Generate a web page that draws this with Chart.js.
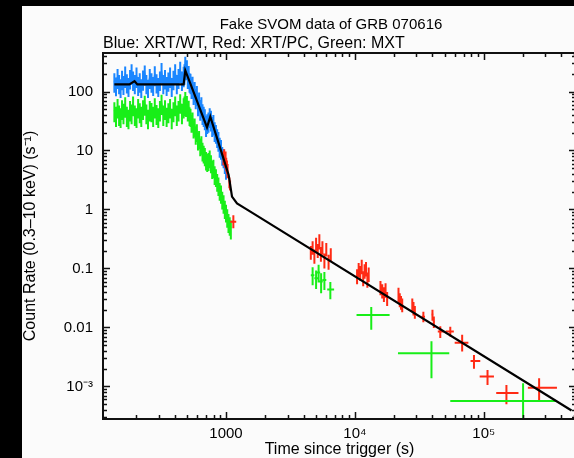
<!DOCTYPE html>
<html>
<head>
<meta charset="utf-8">
<title>GRB 070616 light curve</title>
<script src="https://cdn.jsdelivr.net/npm/chart.js@4.4.1/dist/chart.umd.min.js"></script>
<style>
  html, body { margin: 0; padding: 0; background: #000; overflow: hidden; }
  #panel { position: absolute; left: 22px; top: 6px; width: 560px; height: 452px; background: #fbfbfb; }
  #lc { display: block; }
</style>
</head>
<body>
<div id="panel"><canvas id="lc" width="560" height="452"></canvas></div>
<script>
// Axis ranges and labelled ticks
const xRange = [111, 520000];
const yRange = [2.8e-4, 450];
const xTickValues = [1000, 1e4, 1e5];
const xTickLabels = ['1000', '10\u2074', '10\u2075'];
const yTickValues = [1e-3, 0.01, 0.1, 1, 10, 100];
const yTickLabels = ['10\u207B\u00B3', '0.01', '0.1', '1', '10', '100'];

// XRT windowed timing mode (blue)
const wtTime = [136, 140, 144, 148, 152, 156, 160, 165, 170, 175, 180, 185, 190, 196, 202, 208, 214, 220, 227, 234,
  241, 248, 256, 264, 272, 280, 289, 298, 307, 316, 326, 336, 346, 357, 368, 379, 391, 403, 415, 428, 441, 455, 469,
  476, 483, 490, 497, 505, 513, 521, 530, 540, 550, 560, 571, 582, 594, 606, 618, 631, 644, 657, 671, 685, 700, 715,
  731, 747, 764, 781, 798, 816, 835, 854, 873, 893, 914, 935, 957, 979, 1000];
const wtRate = [150, 128, 175, 140, 120, 165, 135, 190, 145, 125, 170, 210, 160, 140, 185, 130, 150, 120, 165, 200,
  140, 118, 175, 150, 130, 195, 145, 125, 160, 220, 140, 170, 130, 155, 185, 125, 165, 210, 140, 175, 230, 160, 190,
  210, 290, 240, 250, 175, 200, 150, 145, 120, 130, 95, 105, 80, 90, 62, 70, 52, 58, 44, 40, 36, 28, 30,
  32, 38, 34, 27, 29, 22, 20, 17, 15, 12, 11, 8.5, 7.8, 6.2, 5.0];
const wtErr = [55, 45, 65, 50, 42, 60, 48, 75, 52, 44, 62, 80, 58, 50, 70, 46, 55, 42, 62, 75,
  50, 40, 65, 55, 46, 72, 52, 44, 58, 85, 50, 62, 46, 56, 70, 44, 60, 80, 50, 65, 90, 58, 72,
  80, 100, 85, 90, 65, 70, 55, 55, 45, 48, 36, 40, 30, 34, 24, 26, 20, 22, 17, 15, 14, 11, 11,
  12, 14, 13, 10, 11, 8, 7, 6, 5.5, 4.5, 4, 3, 2.8, 2.2, 1.8];

// MXT (green), early dense part
const mxtTime = [136, 140, 144, 148, 152, 156, 160, 165, 170, 175, 180, 185, 190, 196, 202, 208, 214, 220, 227, 234,
  241, 248, 256, 264, 272, 280, 289, 298, 307, 316, 326, 336, 346, 357, 368, 379, 391, 403, 415, 428, 441, 455, 469,
  476, 483, 490, 497, 505, 513, 521, 530, 540, 550, 560, 571, 582, 594, 606, 618, 631, 644, 657, 671, 685, 700, 715,
  731, 747, 764, 781, 798, 816, 835, 854, 873, 893, 914, 935, 957, 979, 1000, 1022, 1045, 1068, 1090];
const mxtRate = [48, 40, 55, 42, 38, 52, 45, 58, 40, 36, 50, 44, 60, 42, 38, 55, 46, 40, 52, 62,
  44, 36, 50, 47, 40, 56, 43, 38, 50, 64, 42, 52, 39, 46, 55, 37, 48, 60, 42, 50, 66, 45, 56,
  60, 72, 58, 62, 48, 52, 40, 38, 30, 33, 24, 26, 19, 21, 15, 16, 12, 13, 10, 9, 8.2, 7, 6.5,
  6.8, 7.5, 6.2, 5.0, 5.2, 4.0, 3.6, 3.0, 2.6, 2.1, 1.9, 1.5, 1.3, 1.05, 0.9, 0.75, 0.62, 0.55, 0.48];
const mxtErr = [18, 15, 20, 16, 14, 19, 17, 22, 15, 13, 19, 16, 22, 16, 14, 20, 17, 15, 19, 23,
  16, 13, 19, 17, 15, 21, 16, 14, 19, 24, 16, 19, 14, 17, 20, 14, 18, 22, 16, 19, 24, 17, 21,
  22, 26, 21, 22, 17, 18, 14, 13, 10, 11, 8, 9, 6.5, 7, 5, 5.5, 4, 4.5, 3.5, 3, 2.8, 2.4, 2.2,
  2.3, 2.5, 2.1, 1.7, 1.8, 1.4, 1.2, 1.0, 0.9, 0.7, 0.65, 0.5, 0.45, 0.36, 0.3, 0.26, 0.22, 0.19, 0.17];

// XRT photon counting mode (red), binned with explicit bounds
const pcTime = [955, 968, 980, 992, 1004, 1016, 1028, 1062, 1075, 1140,
  4550, 4700, 4850, 5000, 5150, 5300, 5450, 5600, 5800, 6000, 6250, 6500,
  10400, 10700, 11000, 11300, 11600, 11900, 12200, 12500, 12800,
  15800, 16300, 16800, 17300, 17800, 21800, 22300, 22800, 23300, 27900, 28500, 29200,
  34000, 40000, 41000, 46000, 55000, 68000, 84000, 107000, 150000, 269000];
const pcTimeLo = [945, 958, 970, 982, 994, 1006, 1018, 1052, 1065, 1080,
  4480, 4630, 4780, 4930, 5080, 5230, 5380, 5530, 5720, 5920, 6160, 6400,
  10250, 10550, 10850, 11150, 11450, 11750, 12050, 12350, 12650,
  15550, 16050, 16550, 17050, 17550, 21500, 22000, 22500, 23000, 27500, 28100, 28800,
  33000, 39200, 40200, 44000, 50700, 59500, 79000, 93000, 125000, 220000];
const pcTimeHi = [965, 978, 990, 1002, 1014, 1026, 1038, 1072, 1085, 1200,
  4620, 4770, 4920, 5070, 5220, 5370, 5520, 5670, 5880, 6080, 6340, 6600,
  10550, 10850, 11150, 11450, 11750, 12050, 12350, 12650, 12950,
  16050, 16550, 17050, 17550, 18050, 22100, 22600, 23100, 23600, 28300, 28900, 29600,
  35000, 40800, 41800, 49000, 58600, 76000, 94000, 120000, 186000, 370000];
const pcRate = [7.5, 8.3, 6.8, 7.6, 5.9, 5.3, 4.6, 2.9, 2.6, 0.62,
  0.19, 0.23, 0.16, 0.26, 0.20, 0.29, 0.18, 0.23, 0.14, 0.21, 0.13, 0.17,
  0.075, 0.097, 0.086, 0.11, 0.07, 0.092, 0.10, 0.066, 0.081,
  0.048, 0.042, 0.037, 0.044, 0.031, 0.037, 0.030, 0.027, 0.024, 0.025, 0.021, 0.018,
  0.0152, 0.0165, 0.0125, 0.0085, 0.0085, 0.0055, 0.0027, 0.00147, 0.00077, 0.00095];
const pcRateLo = [5.6, 6.3, 5.1, 5.8, 4.4, 4.0, 3.4, 2.3, 2.1, 0.48,
  0.14, 0.17, 0.12, 0.19, 0.15, 0.21, 0.13, 0.17, 0.10, 0.16, 0.095, 0.13,
  0.054, 0.071, 0.062, 0.08, 0.05, 0.067, 0.073, 0.047, 0.059,
  0.035, 0.031, 0.027, 0.032, 0.023, 0.027, 0.022, 0.020, 0.018, 0.019, 0.016, 0.014,
  0.0122, 0.013, 0.0098, 0.0066, 0.0070, 0.0039, 0.0020, 0.00106, 0.0005, 0.00055];
const pcRateHi = [9.6, 10.5, 8.7, 9.6, 7.5, 6.8, 5.9, 3.5, 3.1, 0.80,
  0.24, 0.29, 0.21, 0.33, 0.26, 0.38, 0.23, 0.29, 0.18, 0.27, 0.17, 0.22,
  0.097, 0.124, 0.11, 0.14, 0.09, 0.118, 0.128, 0.085, 0.104,
  0.061, 0.054, 0.048, 0.056, 0.040, 0.047, 0.038, 0.034, 0.031, 0.031, 0.027, 0.023,
  0.0185, 0.020, 0.0153, 0.0105, 0.0103, 0.0075, 0.0034, 0.0019, 0.00106, 0.00138];

// MXT (green), late binned points
const mxtLateTime = [4700, 5000, 5230, 5470, 5800, 6450, 13400, 39300, 202000];
const mxtLateTimeLo = [4550, 4850, 5080, 5300, 5600, 6100, 10300, 21600, 55000];
const mxtLateTimeHi = [4850, 5150, 5380, 5640, 6000, 6900, 18600, 54000, 370000];
const mxtLateRate = [0.077, 0.068, 0.085, 0.060, 0.064, 0.044, 0.0163, 0.00365, 0.000567];
const mxtLateRateLo = [0.052, 0.045, 0.058, 0.038, 0.043, 0.030, 0.0091, 0.00138, 0.00015];
const mxtLateRateHi = [0.105, 0.092, 0.115, 0.083, 0.087, 0.059, 0.0221, 0.0058, 0.00113];

// Best-fit model (black)
const modelTime = [136, 178, 195, 205, 469, 483, 528, 712, 755, 1048, 1113, 1217, 1545, 480000];
const modelRate = [132, 132, 150, 132, 132, 228, 138, 24.7, 37.4, 3.85, 1.65, 1.27, 0.92, 3.9e-4];

const BLUE = '#1a86ff';
const GREEN = '#18ee18';
const RED = '#ff2a14';
const FONT = '"Liberation Sans", Arial, sans-serif';

function symPoints(t, r, e) {
  return t.map((x, i) => ({ x, y: r[i], yMin: r[i] - e[i], yMax: r[i] + e[i] }));
}
function boxPoints(t, tLo, tHi, r, rLo, rHi) {
  return t.map((x, i) => ({ x, y: r[i], xMin: tLo[i], xMax: tHi[i], yMin: rLo[i], yMax: rHi[i] }));
}

// error bars drawn right after each dataset so stacking order is kept
const errorBars = {
  id: 'errorBars',
  afterDatasetDraw(chart, args) {
    const ds = chart.data.datasets[args.index];
    if (!ds.errWidth) return;
    const { ctx, chartArea: a, scales: { x, y } } = chart;
    ctx.save();
    ctx.beginPath();
    ctx.rect(a.left, a.top, a.right - a.left, a.bottom - a.top);
    ctx.clip();
    ctx.strokeStyle = ds.borderColor;
    ctx.lineWidth = ds.errWidth;
    ctx.beginPath();
    ds.data.forEach(p => {
      const px = x.getPixelForValue(p.x);
      const py = y.getPixelForValue(p.y);
      if (p.yMin !== undefined) {
        const lo = p.yMin > 0 ? y.getPixelForValue(p.yMin) : a.bottom + 5;
        ctx.moveTo(px, lo);
        ctx.lineTo(px, y.getPixelForValue(p.yMax));
      }
      if (p.xMin !== undefined) {
        ctx.moveTo(x.getPixelForValue(p.xMin), py);
        ctx.lineTo(x.getPixelForValue(p.xMax), py);
      }
    });
    ctx.stroke();
    ctx.restore();
  }
};

function minorValues(lo, hi) {
  const out = [];
  for (let e = Math.floor(Math.log10(lo)); e <= Math.ceil(Math.log10(hi)); e++) {
    for (let m = 1; m <= 9; m++) {
      const v = m * Math.pow(10, e);
      if (v >= lo && v <= hi) out.push({ v, major: m === 1 });
    }
  }
  return out;
}

// PGPLOT-style frame with inward ticks on all four sides, plus the titles
const frame = {
  id: 'frame',
  afterDraw(chart) {
    const { ctx, chartArea: a, scales: { x, y } } = chart;
    ctx.save();
    ctx.strokeStyle = '#111';
    ctx.lineWidth = 1.5;
    ctx.beginPath();
    minorValues(xRange[0], xRange[1]).forEach(t => {
      const px = Math.round(x.getPixelForValue(t.v)) + 0.5;
      const len = t.major ? 7 : 4;
      ctx.moveTo(px, a.bottom); ctx.lineTo(px, a.bottom - len);
      ctx.moveTo(px, a.top); ctx.lineTo(px, a.top + len);
    });
    minorValues(yRange[0], yRange[1]).forEach(t => {
      const py = Math.round(y.getPixelForValue(t.v)) + 0.5;
      const len = t.major ? 7 : 4;
      ctx.moveTo(a.left, py); ctx.lineTo(a.left + len, py);
      ctx.moveTo(a.right, py); ctx.lineTo(a.right - len, py);
    });
    ctx.stroke();
    ctx.lineWidth = 2;
    ctx.strokeRect(a.left, a.top, a.right - a.left, a.bottom - a.top);

    ctx.fillStyle = '#000';
    ctx.textBaseline = 'alphabetic';
    ctx.font = '15px ' + FONT;
    ctx.textAlign = 'center';
    ctx.fillText('Fake SVOM data of GRB 070616', 309, 22.5);
    ctx.font = '16px ' + FONT;
    ctx.textAlign = 'left';
    ctx.fillText('Blue: XRT/WT, Red: XRT/PC, Green: MXT', a.left, 41.5);

    ctx.textAlign = 'center';
    ctx.fillText('Time since trigger (s)', (a.left + a.right) / 2, 448);
    ctx.translate(13, (a.top + a.bottom) / 2);
    ctx.rotate(-Math.PI / 2);
    ctx.fillText('Count Rate (0.3\u201310 keV) (s\u207B\u00B9)', 0, 0);
    ctx.restore();
  }
};

new Chart(document.getElementById('lc'), {
  type: 'scatter',
  data: {
    datasets: [
      { label: 'Model', data: modelTime.map((x, i) => ({ x, y: modelRate[i] })), showLine: true,
        borderColor: '#000', borderWidth: 2.2, pointRadius: 0, tension: 0 },
      { label: 'MXT late', data: boxPoints(mxtLateTime, mxtLateTimeLo, mxtLateTimeHi, mxtLateRate, mxtLateRateLo, mxtLateRateHi),
        borderColor: GREEN, pointRadius: 0, errWidth: 2 },
      { label: 'XRT/PC', data: boxPoints(pcTime, pcTimeLo, pcTimeHi, pcRate, pcRateLo, pcRateHi),
        borderColor: RED, pointRadius: 0, errWidth: 2 },
      { label: 'XRT/WT', data: symPoints(wtTime, wtRate, wtErr), showLine: true,
        borderColor: BLUE, borderWidth: 1.5, pointRadius: 0, errWidth: 2 },
      { label: 'MXT', data: symPoints(mxtTime, mxtRate, mxtErr), showLine: true,
        borderColor: GREEN, borderWidth: 1.5, pointRadius: 0, errWidth: 2 }
    ]
  },
  options: {
    responsive: false,
    animation: false,
    layout: { padding: { top: 47, right: 6, left: 0, bottom: 0 } },
    plugins: { legend: { display: false }, tooltip: { enabled: false } },
    scales: {
      x: {
        type: 'logarithmic', min: xRange[0], max: xRange[1],
        grid: { display: false, drawTicks: false }, border: { display: false },
        afterBuildTicks: s => { s.ticks = xTickValues.map(v => ({ value: v })); },
        afterFit: s => { s.height = 39; },
        ticks: { autoSkip: false, maxRotation: 0, padding: 6, color: '#000',
          font: { family: FONT, size: 15 },
          callback: v => xTickLabels[xTickValues.indexOf(v)] }
      },
      y: {
        type: 'logarithmic', min: yRange[0], max: yRange[1],
        grid: { display: false, drawTicks: false }, border: { display: false },
        afterBuildTicks: s => { s.ticks = yTickValues.map(v => ({ value: v })); },
        afterFit: s => { s.width = 81; },
        ticks: { autoSkip: false, padding: 10, color: '#000',
          font: { family: FONT, size: 15 },
          callback: v => yTickLabels[yTickValues.indexOf(v)] }
      }
    }
  },
  plugins: [errorBars, frame]
});
</script>
</body>
</html>
